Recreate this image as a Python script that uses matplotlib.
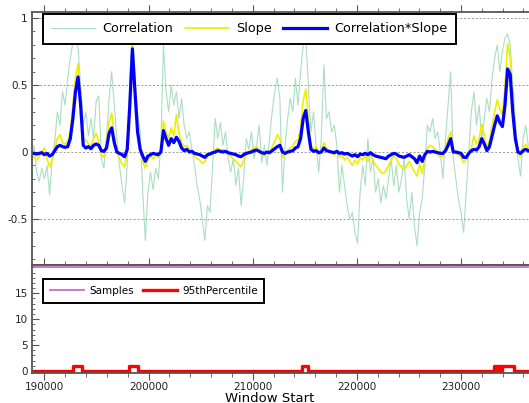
import matplotlib
matplotlib.use('Agg')
import matplotlib.pyplot as plt
from matplotlib.ticker import MultipleLocator
import numpy as np

# window starts, regular spacing
win_start = np.arange(193) * 248.5 + 188750

correlation = [
    -0.08, 0.05, -0.15, -0.22, -0.12, -0.2, -0.1, -0.32, -0.05, 0.08,
    0.3, 0.2, 0.45, 0.35, 0.55, 0.7, 0.82, 0.85, 0.78, 0.5,
    0.2, 0.3, 0.12, 0.25, 0.1, 0.38, 0.42, -0.05, -0.12, 0.1,
    0.4, 0.6, 0.35, 0.1, -0.1, -0.25, -0.38, -0.1, 0.55, 0.85,
    0.5, 0.3, 0.15, -0.3, -0.66, -0.3, -0.15, -0.28, -0.12, -0.2,
    0.05, 0.8, 0.45, 0.3, 0.5, 0.35, 0.45, 0.25, 0.4, 0.2,
    0.1, 0.15, 0.02, -0.1, -0.25, -0.35, -0.5, -0.66, -0.4, -0.45,
    -0.1, 0.25, 0.1, 0.22, 0.05, 0.15, -0.05, -0.15, -0.05, -0.25,
    -0.12, -0.4, -0.2, 0.1, 0.02, 0.15, -0.05, 0.05, 0.2, -0.08,
    0.05, -0.1, 0.1, 0.3, 0.45, 0.55, 0.4,
    -0.3, 0.05, 0.25, 0.4, 0.3, 0.55, 0.35, 0.6, 0.8, 0.85,
    0.5, 0.15, 0.3, 0.05, -0.15, 0.1, 0.65, 0.25, 0.3, 0.15,
    0.2, 0.05, -0.3, -0.1, -0.25, -0.4, -0.5, -0.45, -0.6, -0.68,
    -0.3, -0.1, -0.25, 0.1, -0.15, -0.05, -0.3, -0.2, -0.38, -0.25,
    -0.35, -0.2, -0.05, -0.25, -0.1, -0.3, -0.2, -0.05, -0.35, -0.5,
    -0.3, -0.55, -0.7, -0.45, -0.35, -0.1, 0.2, 0.15, 0.25, 0.1,
    0.15, 0.0, -0.2, 0.1, 0.35, 0.6, -0.05, -0.2, -0.35, -0.45,
    -0.6, -0.3, 0.0, 0.3, 0.45, 0.2, 0.35, 0.1, 0.25, 0.4,
    0.3, 0.55, 0.7, 0.8, 0.6, 0.75, 0.85, 0.88, 0.8, 0.5,
    0.25, -0.05, -0.18, 0.1, 0.2, 0.05,
]

slope = [
    -0.02, -0.04, -0.06, -0.03, 0.0, 0.03, -0.05, -0.11, -0.06, 0.02,
    0.1, 0.13, 0.07, 0.06, 0.08, 0.15, 0.35, 0.55, 0.66, 0.4,
    0.08, 0.09, 0.06, 0.04, 0.1, 0.14, 0.07, -0.02, -0.04, 0.08,
    0.22, 0.29, 0.12, 0.0, -0.05, -0.09, -0.11, 0.0, 0.42, 0.82,
    0.55, 0.2, 0.03, -0.07, -0.12, -0.06, -0.03, -0.05, -0.02, -0.04,
    0.02, 0.23, 0.15, 0.1, 0.18, 0.12, 0.28, 0.14, 0.07, 0.04,
    0.05, 0.02, 0.0, -0.03, -0.05, -0.06, -0.085, -0.07, -0.04, -0.02,
    0.0, 0.02, 0.03, 0.01, 0.02, 0.0, -0.02, -0.03, -0.05, -0.07,
    -0.09, -0.11, -0.06, -0.02, 0.0, 0.02, 0.03, 0.04, 0.01, -0.02,
    -0.03, 0.0, -0.01, 0.04, 0.08, 0.13, 0.1,
    -0.04, -0.02, 0.01, 0.03, 0.05, 0.08, 0.09, 0.18, 0.38, 0.47,
    0.25, 0.05, 0.02, 0.04, -0.02, 0.01, 0.07, 0.03, 0.01, -0.01,
    -0.02, 0.0, -0.04, -0.02, -0.06, -0.04, -0.07, -0.1, -0.06, -0.09,
    -0.04, -0.06, -0.03, -0.07, -0.02, -0.06, -0.1, -0.12, -0.15, -0.16,
    -0.14, -0.1, -0.06, -0.03, -0.05, -0.09, -0.11, -0.13, -0.1, -0.07,
    -0.11, -0.15, -0.18, -0.09, -0.16, -0.05, 0.03, 0.05, 0.04, 0.02,
    -0.02, -0.04, -0.03, 0.03, 0.1, 0.15, 0.02, -0.01, -0.02, -0.04,
    -0.08, -0.06, -0.02, 0.03, 0.12, 0.06, 0.1, 0.21, 0.12, 0.03,
    0.09, 0.2, 0.3, 0.39, 0.32, 0.28, 0.48, 0.81, 0.7, 0.4,
    0.15, 0.0, -0.04, 0.03, 0.06, 0.03,
]

corr_slope = [
    -0.01, -0.01, -0.015, -0.01, -0.005, -0.02, -0.01, -0.03, -0.02, 0.01,
    0.04, 0.05, 0.04, 0.035, 0.04, 0.1, 0.25, 0.45, 0.56, 0.35,
    0.05, 0.03, 0.04, 0.025, 0.05, 0.06, 0.05, 0.01, 0.005, 0.03,
    0.14, 0.18, 0.07, 0.0, -0.01, -0.02, -0.035, 0.02, 0.35, 0.77,
    0.45, 0.15, 0.02, -0.03, -0.07, -0.03, -0.02, -0.01, -0.015, -0.02,
    0.0, 0.16, 0.1, 0.05, 0.1, 0.07, 0.11, 0.08, 0.03, 0.01,
    0.02, 0.0, 0.005, -0.01, -0.015, -0.02, -0.03, -0.04, -0.02, -0.015,
    -0.005, 0.0, 0.01, 0.005, 0.0, 0.005, -0.005, -0.01, -0.015, -0.02,
    -0.03, -0.035, -0.02, -0.01, -0.005, 0.0, 0.01, 0.015, 0.005, -0.005,
    -0.01, 0.0, -0.005, 0.01, 0.025, 0.04, 0.05,
    0.0, -0.01, 0.0, 0.005, 0.01, 0.03, 0.04, 0.1, 0.25, 0.31,
    0.15, 0.02, 0.005, 0.01, -0.005, 0.0, 0.03, 0.01, 0.005, 0.0,
    -0.005, 0.005, -0.01, -0.005, -0.015, -0.01, -0.02, -0.03, -0.02, -0.035,
    -0.015, -0.02, -0.01, -0.02, -0.005, -0.02, -0.03, -0.035, -0.04, -0.045,
    -0.05, -0.03, -0.02, -0.01, -0.015, -0.03, -0.035, -0.04, -0.03, -0.02,
    -0.035, -0.05, -0.08, -0.03, -0.07, -0.02, 0.005, 0.0, 0.005, 0.0,
    -0.005, -0.01, -0.01, 0.01, 0.05, 0.1, 0.0, 0.0, -0.005, -0.01,
    -0.04, -0.04, -0.01, 0.01, 0.02, 0.015, 0.04, 0.1, 0.06, 0.01,
    0.04, 0.12, 0.2, 0.27, 0.22, 0.19, 0.35, 0.62, 0.58, 0.3,
    0.1, 0.0, -0.01, 0.01, 0.02, 0.01,
]

# lower panel
samples_x = [188750, 236460]
samples_y = [20, 20]
pct_x = [188750, 192710, 193570, 198140, 198950, 214760, 215330,
         233170, 233500, 233600, 233800, 233910, 235120, 236460]
pct_y = [0, 1, 0, 1, 0, 1, 0, 1, 0, 1, 0, 1, 0, 0]

plt.rcParams['axes.unicode_minus'] = False
plt.rcParams['font.family'] = 'DejaVu Sans'

axis_col = '#555555'


def style_axis(ax):
    for s in ['left', 'top', 'bottom']:
        ax.spines[s].set_color(axis_col)
        ax.spines[s].set_linewidth(1.3)
    ax.spines['right'].set_visible(False)
    ax.xaxis.set_major_locator(MultipleLocator(10000))
    ax.xaxis.set_minor_locator(MultipleLocator(2000))
    ax.tick_params(axis='x', which='both', direction='out', top=True,
                   colors=axis_col, labelcolor='#222222', labelsize=7.5, pad=1.5)
    ax.tick_params(axis='x', which='major', length=5)
    ax.tick_params(axis='x', which='minor', length=3)
    ax.tick_params(axis='y', which='both', direction='in', right=False,
                   colors=axis_col, labelcolor='#222222', labelsize=7.5, pad=3)
    ax.tick_params(axis='y', which='major', length=5)
    ax.tick_params(axis='y', which='minor', length=2.5)


def boxed_legend(ax, anchor, ncol, size, hlen, pad, tpad, cspace):
    leg = ax.legend(loc='upper left', bbox_to_anchor=anchor, ncol=ncol,
                    fontsize=size, handlelength=hlen, fancybox=False, framealpha=1,
                    borderpad=pad, columnspacing=cspace, handletextpad=tpad,
                    borderaxespad=0)
    leg.get_frame().set_edgecolor('black')
    leg.get_frame().set_linewidth(1.4)
    return leg


fig = plt.figure(figsize=(5.29, 4.03), dpi=100)
ax1 = fig.add_axes([32 / 529, 1 - 265 / 403, 497 / 529, 252.7 / 403])
ax2 = fig.add_axes([32 / 529, 1 - 373.3 / 403, 497 / 529, 108.3 / 403])

ax1.plot(win_start, correlation, color='#66c28e', alpha=0.55, lw=0.8, label='Correlation')
ax1.plot(win_start, slope, color='#eeee00', lw=1.2, label='Slope')
ax1.plot(win_start, corr_slope, color='#0000ff', lw=2.3, label='Correlation*Slope')
ax1.set_xlim(188800, 236530)
ax1.set_ylim(-0.843, 1.0425)
ax1.yaxis.set_minor_locator(MultipleLocator(0.1))
ax1.set_yticks([-0.5, 0, 0.5, 1])
ax1.set_yticklabels(['-0.5', '0', '0.5', '1'])
ax1.grid(axis='y', which='major', color='#999999', linestyle=(0, (2, 2)), lw=0.7)
style_axis(ax1)
ax1.tick_params(axis='x', which='both', bottom=False, labelbottom=False)
boxed_legend(ax1, (0.022, 0.993), 3, 9.2, 3.45, 0.65, 0.55, 0.9)

ax2.plot(samples_x, samples_y, color='#c86ec8', lw=1.3, label='Samples')
ax2.plot(pct_x, pct_y, color='#ff0000', lw=2.4, drawstyle='steps-post', label='95thPercentile')
ax2.set_xlim(188800, 236530)
ax2.set_ylim(-0.44, 20.46)
ax2.set_yticks([0, 5, 10, 15])
ax2.yaxis.set_minor_locator(MultipleLocator(1))
style_axis(ax2)
boxed_legend(ax2, (0.022, 0.871), 2, 7.5, 3.3, 0.65, 0.48, 0.85)

fig.text(270 / 529, 1 - 398 / 403, 'Window Start', fontsize=9.5,
         ha='center', va='center')

plt.savefig('out.png', dpi=100)
